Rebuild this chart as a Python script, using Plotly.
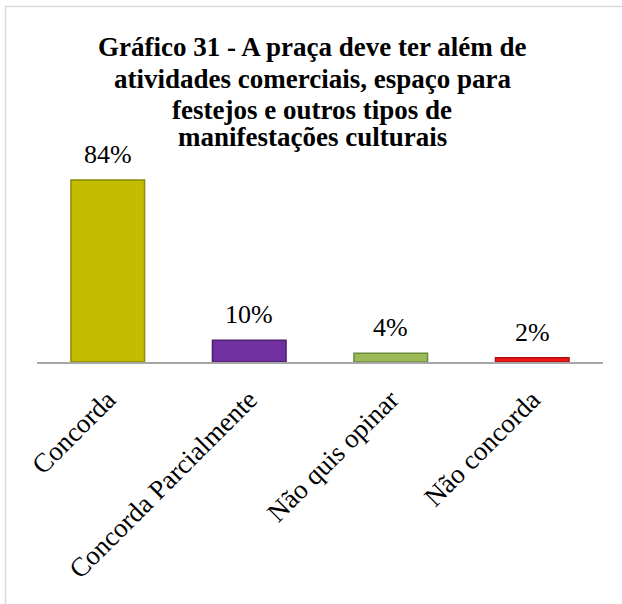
import plotly.graph_objects as go

categories = ["Concorda", "Concorda Parcialmente", "Não quis opinar", "Não concorda"]
values = [84, 10, 4, 2]
labels = ["84%", "10%", "4%", "2%"]
title_lines = [
    "Gráfico 31 - A praça deve ter além de",
    "atividades comerciais, espaço para",
    "festejos e outros tipos de",
    "manifestações culturais",
]
colors = ["#C4BC00", "#7030A0", "#9BBB59", "#F01818"]
line_colors = ["#8F8900", "#4E2070", "#6E8A3A", "#B01010"]

W, H = 622, 604
L, R, T, B = 37, 19, 100, 242
plot_w = W - L - R
plot_h = H - T - B
px_per_unit = (362 - 180) / 84.0
ymax = plot_h / px_per_unit

SERIF = "Liberation Serif"

fig = go.Figure()
fig.add_trace(go.Bar(
    x=categories, y=values,
    marker=dict(color=colors, line=dict(color=line_colors, width=1.5)),
    width=0.52,
    cliponaxis=False,
    hoverinfo="skip",
))

def px2paper_x(px):
    return (px - L) / plot_w

def px2paper_y(py):
    return (H - B - py) / plot_h

# value labels
for c, v, t in zip(categories, values, labels):
    fig.add_annotation(x=c, y=v, xref="x", yref="y", text=t, showarrow=False,
                       yanchor="bottom", yshift=9,
                       font=dict(family=SERIF, size=26, color="#000000"))

# title lines
title_baselines = [57, 89, 120, 147]
for line, bl in zip(title_lines, title_baselines):
    fig.add_annotation(x=px2paper_x(312), y=px2paper_y(bl + 7), xref="paper", yref="paper",
                       text="<b>" + line + "</b>", showarrow=False,
                       xanchor="center", yanchor="bottom",
                       font=dict(family=SERIF, size=27, color="#000000"))

fig.add_shape(type="rect", xref="paper", yref="paper",
              x0=px2paper_x(5.5), x1=px2paper_x(640),
              y0=px2paper_y(640), y1=px2paper_y(6.5),
              line=dict(color="#D9D9D9", width=1.5), fillcolor="rgba(0,0,0,0)",
              layer="below")

fig.update_layout(
    width=W, height=H,
    margin=dict(l=L, r=R, t=T, b=B, pad=0),
    paper_bgcolor="#FFFFFF", plot_bgcolor="#FFFFFF",
    showlegend=False,
    xaxis=dict(
        showline=True, linecolor="#A6A6A6", linewidth=2,
        showgrid=False, ticks="", tickangle=-45, ticklabelstandoff=9,
        tickfont=dict(family=SERIF, size=27, color="#000000"),
    ),
    yaxis=dict(visible=False, range=[0, ymax], showgrid=False, zeroline=False),
)

fig.write_html("out.html", config={"displayModeBar": False})

with open("out.html", "r", encoding="utf-8") as f:
    html = f.read()
html = html.replace("<body>", '<body style="margin:0;padding:0;overflow:hidden">', 1)
with open("out.html", "w", encoding="utf-8") as f:
    f.write(html)
